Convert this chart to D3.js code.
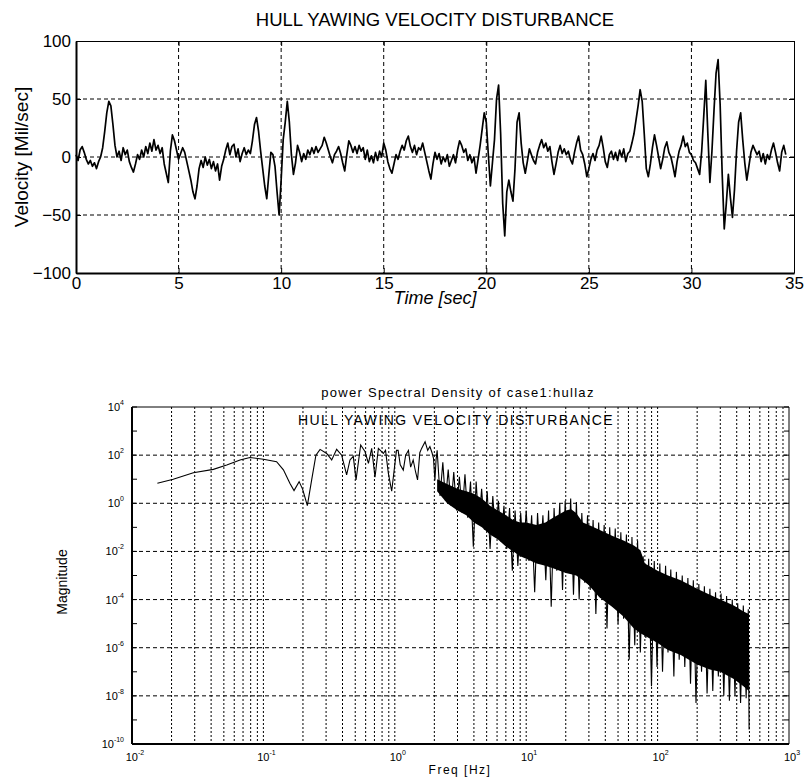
<!DOCTYPE html>
<html>
<head>
<meta charset="utf-8">
<script src="https://cdn.jsdelivr.net/npm/d3@7"></script>
<style>
  body { margin: 0; background: #fff; }
  svg { display: block; }
</style>
</head>
<body>
<div id="chart"></div>
<script>
// ---- yaw velocity time history
const velTitle = 'HULL YAWING VELOCITY DISTURBANCE';
const dt = 0.1; // sample period [sec]
const velocity = [
  2, -3, 6, 9, 4, -2, -6, -3, -8, -5,
  -10, -4, 0, 8, 22, 38, 48, 44, 28, 10,
  0, 5, -3, 8, 2, 6, -4, -9, -13, -6,
  2, -2, 6, 0, 9, 3, 12, 5, 15, 6,
  10, 3, 8, -6, -14, -22, 5, 19, 14, 6,
  -2, 3, 8, 4, -4, -12, -20, -30, -36, -25,
  -10, -3, -9, 0, -7, -2, -10, -4, -12, -6,
  -20, -8, -2, 6, 12, 2, 9, 11, 0, 7,
  -4, 3, 8, 2, 6, 3, 14, 28, 34, 22,
  5, -10, -25, -36, -15, 4, 2, -8, -30, -50,
  -20, 15, 30, 48, 30, 2, -15, -5, 10, 4,
  -4, 3, -2, 6, 2, 8, 3, 9, 4, 7,
  10, 17, 12, 6, 0, -5, 2, 5, 9, 3,
  -5, -12, 2, 14, 10, 4, 9, 3, 10, 5,
  8, -2, 6, -4, 1, -5, 4, -3, 5, 0,
  12, 6, -4, -10, -14, -6, 2, -2, 5, 10,
  6, 14, 18, 9, 4, 10, 2, 8, 6, 12,
  4, -4, -12, -19, -6, 4, -2, 3, -6, 0,
  -4, 2, -8, -3, 2, -5, 6, 14, 10, 4,
  7, -3, 2, -5, 0, -14, -2, 10, 24, 38,
  30, 2, -25, -5, 15, 50, 62, 20, -40, -68,
  -30, -20, -30, -38, -10, 30, 38, 12, -5, -14,
  -4, 7, 2, -3, -6, 4, 10, 15, 8, 12,
  5, 9, -4, -15, -6, 4, 10, 3, 7, 2,
  5, -2, -6, 4, 12, 18, 6, 2, -6, -17,
  -10, -2, 3, -3, 6, 10, 18, 8, -4, -9,
  2, 5, -2, 4, -3, 6, 0, 7, -4, 3,
  5, 12, 20, 32, 44, 58, 48, 20, -10, -17,
  -6, 8, 19, 10, 0, -10, -2, 8, 13, 4,
  0, -8, -17, -4, 5, 10, 18, 9, 12, 4,
  2, -3, -5, -10, -15, 5, 35, 66, 20, -22,
  5, 40, 72, 84, 45, -15, -62, -40, -15, -35,
  -52, -28, 5, 30, 38, 15, -5, -20, -8, 4,
  10, 6, 2, 5, -4, 3, -6, 2, -2, 6,
  12, 4, -5, -12, 4, 10, 2
];
const timeTicks = [0, 5, 10, 15, 20, 25, 30, 35];
const velTicks = [-100, -50, 0, 50, 100];

// ---- power spectral density (magnitudes stored as log10)
const psdTitle = 'power Spectral Density of case1:hullaz';
const psdLowFreq = [0.0156, 0.0206, 0.0293, 0.0416, 0.0526, 0.0664, 0.079, 0.1, 0.126, 0.142,
  0.159, 0.171, 0.187, 0.199, 0.216, 0.233, 0.251, 0.27, 0.303, 0.331,
  0.361, 0.394, 0.43, 0.456, 0.483, 0.507, 0.55, 0.593, 0.63, 0.667,
  0.707, 0.75, 0.818, 0.85, 0.893, 0.947, 1.03, 1.06, 1.10, 1.16,
  1.21, 1.27, 1.32, 1.38, 1.44, 1.49, 1.55, 1.6, 1.7, 1.78,
  1.85, 1.92, 1.97, 2.02, 2.06];
const psdLowMag = [0.83, 1.0, 1.27, 1.41, 1.59, 1.80, 1.90, 1.83, 1.73, 1.39,
  0.83, 0.53, 0.90, 0.58, -0.1, 0.97, 2.0, 2.24, 2.07, 1.80,
  2.24, 2.0, 1.18, 1.80, 1.95, 0.97, 2.42, 2.15, 1.66, 2.28,
  1.08, 2.28, 2.07, 2.2, 1.25, 0.5, 2.2, 2.2, 1.6, 1.38,
  2.0, 2.2, 1.5, 1.8, 1.3, 0.97, 2.1, 2.28, 2.56, 2.2,
  2.36, 2.1, 1.87, 0.95, 1.8];
const psdHiFreq = [2.10, 2.21, 2.32, 2.43, 2.55, 2.68, 2.81, 2.95, 3.10, 3.26,
  3.42, 3.59, 3.77, 3.96, 4.16, 4.36, 4.58, 4.81, 5.05, 5.31,
  5.57, 5.85, 6.14, 6.45, 6.77, 7.11, 7.47, 7.84, 8.23, 8.64,
  9.08, 9.53, 10.0, 10.5, 11.0, 11.6, 12.2, 12.8, 13.4, 14.1,
  14.8, 15.5, 16.3, 17.1, 18.0, 18.9, 19.8, 20.8, 21.8, 22.9,
  24.1, 25.3, 26.5, 27.9, 29.3, 30.7, 32.3, 33.9, 35.6, 37.3,
  39.2, 41.2, 43.2, 45.4, 47.6, 50.0, 52.5, 55.1, 57.9, 60.8,
  63.8, 67.0, 70.4, 73.9, 77.6, 81.4, 85.5, 89.8, 94.3, 99.0,
  104, 109, 115, 120, 126, 133, 139, 146, 154, 161,
  170, 178, 187, 196, 206, 216, 227, 238, 250, 263,
  276, 290, 304, 319, 335, 352, 370, 388, 407, 428,
  449, 472, 490, 497];
const psdHiMag = [2.2, 0.3, 1.7, 0.1, 1.4, -0.1, 1.3, -0.3, 1.1, -0.4,
  1.2, -0.6, 0.9, -1.8, 0.9, -0.9, 0.6, -1.1, 0.5, -1.9,
  0.3, -1.4, 0.1, -1.6, -0.1, -1.9, -0.2, -2.8, -0.3, -2.6,
  -0.4, -2.2, -0.3, -2.4, -0.5, -3.7, -0.4, -2.5, -0.5, -3.2,
  -0.3, -4.3, -0.2, -2.8, 0.0, -3.6, 0.1, -2.9, 0.2, -3.8,
  0.05, -4.0, -0.4, -3.3, -0.5, -3.6, -0.7, -4.6, -0.8, -3.9,
  -0.9, -5.2, -1.0, -4.3, -1.05, -5.0, -1.2, -4.8, -1.3, -6.5,
  -1.4, -5.9, -1.55, -6.2, -2.2, -5.6, -2.3, -7.6, -2.4, -6.8,
  -2.5, -7.0, -2.6, -6.2, -2.75, -7.2, -2.85, -6.5, -3.0, -6.8,
  -3.1, -7.5, -3.2, -8.3, -3.35, -7.0, -3.45, -7.9, -3.55, -7.8,
  -3.7, -7.2, -3.75, -8.0, -3.85, -8.2, -4.0, -8.0, -4.15, -8.3,
  -4.25, -8.1, -4.4, -9.4];
// solid core of the high-frequency band
const bandFreq = [2.1, 2.5, 3.0, 3.5, 4.0, 4.6, 5.3, 6.1, 7.0, 8.0, 9.0, 10, 12, 14, 16, 18, 20, 22,
  24, 27, 30, 36, 45, 55, 66, 74, 80, 100, 120, 150, 200, 250, 300, 380, 450, 495];
const bandTop = [1.0, 0.8, 0.6, 0.5, 0.4, 0.2, -0.1, -0.3, -0.5, -0.7, -0.8, -0.8, -0.9, -0.8, -0.6, -0.45, -0.3, -0.25,
  -0.4, -0.8, -0.9, -1.1, -1.35, -1.55, -1.75, -1.95, -2.5, -2.8, -3.0, -3.2, -3.55, -3.8, -4.0, -4.25, -4.5, -4.6];
const bandBottom = [0.5, 0.0, -0.3, -0.5, -0.8, -1.0, -1.3, -1.5, -1.8, -2.0, -2.2, -2.3, -2.5, -2.6, -2.7, -2.8, -2.9, -2.95,
  -3.0, -3.2, -3.4, -3.9, -4.3, -4.7, -5.2, -5.4, -5.5, -5.8, -6.1, -6.3, -6.7, -6.9, -7.0, -7.3, -7.6, -7.8];
const freqDecades = [-2, -1, 0, 1, 2, 3];
const magDecades = [-10, -8, -6, -4, -2, 0, 2, 4];

const width = 805;
const height = 778;
const font = "'Liberation Sans', Arial, sans-serif";
const narrow = "'Liberation Sans Narrow', 'Liberation Sans', sans-serif";

const svg = d3.select('#chart')
  .append('svg')
  .attr('width', width)
  .attr('height', height);

// ================= top panel =================
const m1 = { left: 76, right: 794, top: 41, bottom: 273 };

const x1 = d3.scaleLinear().domain([0, 35]).range([m1.left, m1.right]);
const y1 = d3.scaleLinear().domain([-100, 100]).range([m1.bottom, m1.top]);

const gTop = svg.append('g');

// grid
gTop.append('g')
  .selectAll('line')
  .data(timeTicks.slice(1, -1))
  .join('line')
    .attr('x1', d => x1(d)).attr('x2', d => x1(d))
    .attr('y1', m1.top).attr('y2', m1.bottom)
    .attr('stroke', '#000').attr('stroke-dasharray', '4,3');
gTop.append('g')
  .selectAll('line')
  .data(velTicks.slice(1, -1))
  .join('line')
    .attr('y1', d => y1(d)).attr('y2', d => y1(d))
    .attr('x1', m1.left).attr('x2', m1.right)
    .attr('stroke', '#000').attr('stroke-dasharray', '4,3');

// signal
gTop.append('path')
  .datum(velocity)
  .attr('fill', 'none')
  .attr('stroke', '#000')
  .attr('stroke-width', 1.7)
  .attr('stroke-linejoin', 'round')
  .attr('d', d3.line().x((d, i) => x1(i * dt)).y(d => y1(d)));

function styleAxis(g, size) {
  g.selectAll('text').attr('font-family', font).attr('font-size', size).attr('fill', '#000');
  g.selectAll('line').attr('stroke', '#000');
}

gTop.append('g')
  .attr('transform', `translate(${m1.left},0)`)
  .call(d3.axisLeft(y1).tickValues(velTicks).tickSize(-5).tickPadding(5).tickSizeOuter(0))
  .call(g => g.select('.domain').attr('stroke-width', 2))
  .call(g => styleAxis(g, 17));
gTop.append('g')
  .attr('transform', `translate(0,${m1.bottom})`)
  .call(d3.axisBottom(x1).tickValues(timeTicks).tickSize(-5).tickPadding(4).tickSizeOuter(0))
  .call(g => g.select('.domain').attr('stroke-width', 2))
  .call(g => styleAxis(g, 17));
gTop.append('g')
  .attr('transform', `translate(${m1.right},0)`)
  .call(d3.axisRight(y1).tickValues(velTicks).tickSize(-5).tickFormat('').tickSizeOuter(0))
  .call(g => styleAxis(g, 17));
gTop.append('g')
  .attr('transform', `translate(0,${m1.top})`)
  .call(d3.axisTop(x1).tickValues(timeTicks).tickSize(-5).tickFormat('').tickSizeOuter(0))
  .call(g => styleAxis(g, 17));

gTop.append('text')
  .attr('x', (m1.left + m1.right) / 2).attr('y', 26)
  .attr('text-anchor', 'middle')
  .attr('font-family', font).attr('font-size', 18.5)
  .text(velTitle);
gTop.append('text')
  .attr('x', (m1.left + m1.right) / 2).attr('y', 304)
  .attr('text-anchor', 'middle')
  .attr('font-family', font).attr('font-size', 18).attr('font-style', 'italic')
  .text('Time [sec]');
gTop.append('text')
  .attr('transform', `translate(28,${(m1.top + m1.bottom) / 2}) rotate(-90)`)
  .attr('text-anchor', 'middle')
  .attr('font-family', font).attr('font-size', 19)
  .text('Velocity [Mil/sec]');

// ================= bottom panel =================
const m2 = { left: 132, right: 789, top: 407, bottom: 744 };

const x2 = d3.scaleLog().domain([1e-2, 1e3]).range([m2.left, m2.right]);
const y2 = d3.scaleLog().domain([1e-10, 1e4]).range([m2.bottom, m2.top]);
const mag = e => Math.pow(10, e);

const gBot = svg.append('g');

// log grid: every 1..9 step of each decade
const minorFreqs = [];
freqDecades.slice(0, -1).forEach(d => {
  for (let k = 1; k < 10; k++) minorFreqs.push(k * Math.pow(10, d));
});
gBot.append('g')
  .selectAll('line')
  .data(minorFreqs.slice(1))
  .join('line')
    .attr('x1', d => x2(d)).attr('x2', d => x2(d))
    .attr('y1', m2.top).attr('y2', m2.bottom)
    .attr('stroke', '#000').attr('stroke-dasharray', '2,2');
gBot.append('g')
  .selectAll('line')
  .data(magDecades.slice(1, -1))
  .join('line')
    .attr('y1', d => y2(mag(d))).attr('y2', d => y2(mag(d)))
    .attr('x1', m2.left).attr('x2', m2.right)
    .attr('stroke', '#000').attr('stroke-dasharray', '4,3');

// solid core band
gBot.append('path')
  .datum(bandFreq.map((f, i) => [f, bandTop[i], bandBottom[i]]))
  .attr('fill', '#000')
  .attr('d', d3.area()
    .x(d => x2(d[0]))
    .y0(d => y2(mag(d[2])))
    .y1(d => y2(mag(d[1]))));

// spectrum trace
const psd = psdLowFreq.map((f, i) => [f, psdLowMag[i]])
  .concat(psdHiFreq.map((f, i) => [f, psdHiMag[i]]));
gBot.append('path')
  .datum(psd)
  .attr('fill', 'none')
  .attr('stroke', '#000')
  .attr('stroke-width', 1.1)
  .attr('d', d3.line().x(d => x2(d[0])).y(d => y2(mag(d[1]))));

// frame and ticks
const oddDecades = d3.range(-9, 4, 2);
[m2.left, m2.right].forEach((x, side) => {
  gBot.append('g')
    .selectAll('line')
    .data(oddDecades.concat(magDecades))
    .join('line')
      .attr('x1', x).attr('x2', side ? x - 5 : x + 5)
      .attr('y1', d => y2(mag(d))).attr('y2', d => y2(mag(d)))
      .attr('stroke', '#000');
});
gBot.append('line')
  .attr('x1', m2.left).attr('x2', m2.right).attr('y1', m2.top).attr('y2', m2.top)
  .attr('stroke', '#000');
gBot.append('line')
  .attr('x1', m2.right).attr('x2', m2.right).attr('y1', m2.top).attr('y2', m2.bottom)
  .attr('stroke', '#000');
gBot.append('line')
  .attr('x1', m2.left).attr('x2', m2.left).attr('y1', m2.top).attr('y2', m2.bottom)
  .attr('stroke', '#000').attr('stroke-width', 2);
gBot.append('line')
  .attr('x1', m2.left).attr('x2', m2.right).attr('y1', m2.bottom).attr('y2', m2.bottom)
  .attr('stroke', '#000').attr('stroke-width', 2);

// power-of-ten labels
function powerLabel(sel) {
  sel.append('tspan').attr('font-size', 11).text('10');
  sel.append('tspan').attr('font-size', 7).attr('dy', -6).text(d => d);
}
gBot.append('g')
  .selectAll('text')
  .data(magDecades)
  .join('text')
    .attr('x', m2.left - 8)
    .attr('y', d => y2(mag(d)) + 4)
    .attr('text-anchor', 'end')
    .attr('font-family', font)
    .call(powerLabel);
gBot.append('g')
  .selectAll('text')
  .data(freqDecades)
  .join('text')
    .attr('x', d => x2(mag(d)) + 3)
    .attr('y', m2.bottom + 17)
    .attr('text-anchor', 'middle')
    .attr('font-family', font)
    .call(powerLabel);

gBot.append('text')
  .attr('x', 458).attr('y', 397)
  .attr('text-anchor', 'middle')
  .attr('font-family', font).attr('font-size', 13).attr('letter-spacing', 1.3)
  .text(psdTitle);
gBot.append('text')
  .attr('x', 456).attr('y', 425)
  .attr('text-anchor', 'middle')
  .attr('font-family', font).attr('font-size', 14).attr('letter-spacing', 1.4)
  .text(velTitle);
gBot.append('text')
  .attr('x', 460).attr('y', 774)
  .attr('text-anchor', 'middle')
  .attr('font-family', font).attr('font-size', 12).attr('letter-spacing', 1.5)
  .text('Freq [Hz]');
gBot.append('text')
  .attr('transform', `translate(67,582) rotate(-90)`)
  .attr('text-anchor', 'middle')
  .attr('font-family', narrow).attr('font-size', 14)
  .text('Magnitude');
</script>
</body>
</html>
